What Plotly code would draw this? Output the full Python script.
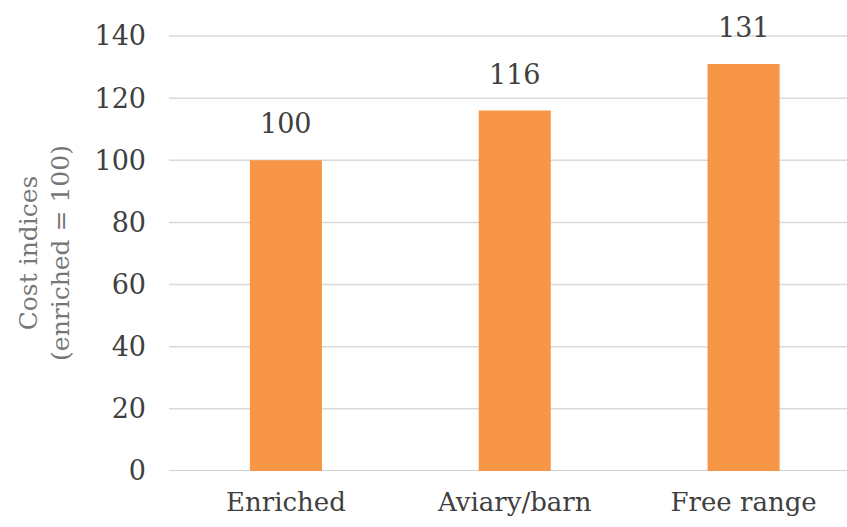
import plotly.graph_objects as go

categories = ["Enriched", "Aviary/barn", "Free range"]
values = [100, 116, 131]
labels = ["100", "116", "131"]
y_ticks = [0, 20, 40, 60, 80, 100, 120, 140]

FONT = "DejaVu Serif"

fig = go.Figure(
    go.Bar(
        x=categories,
        y=values,
        marker=dict(color="#F79646", line=dict(width=0)),
        width=0.315,
    )
)

for c, v, t in zip(categories, values, labels):
    fig.add_annotation(
        x=c, y=v, text=t, showarrow=False,
        xref="x", yref="y", yanchor="bottom", yshift=19,
        font=dict(family=FONT, size=27, color="#404040"),
    )

# horizontal gridlines across the full plot width (value axis ticks)
for yv in y_ticks:
    fig.add_shape(
        type="line", xref="paper", yref="y", x0=0, x1=1, y0=yv, y1=yv,
        layer="below",
        line=dict(color="#d0d0d0" if yv == 0 else "#d9d9d9", width=2 if yv == 0 else 1.5),
    )

fig.update_layout(
    width=847,
    height=527,
    margin=dict(l=169, r=0, t=35, b=56, autoexpand=False),
    paper_bgcolor="white",
    plot_bgcolor="white",
    showlegend=False,
    font=dict(family=FONT, color="#404040"),
)

fig.update_xaxes(
    type="category",
    range=[-0.511, 2.452],
    automargin=False,
    showgrid=False,
    showline=False,
    ticks="",
    tickfont=dict(family=FONT, size=26, color="#404040"),
    ticklabelstandoff=13,
)

fig.update_yaxes(
    range=[0, 140.32],
    automargin=False,
    tickvals=y_ticks,
    showgrid=False,
    zeroline=False,
    showline=False,
    ticks="",
    tickfont=dict(family=FONT, size=27, color="#404040"),
    ticklabelstandoff=22,
    title=dict(
        text="Cost indices<br>(enriched = 100)",
        font=dict(family=FONT, size=25, color="#767676"),
        standoff=17,
    ),
)

fig.write_html("out.html")
